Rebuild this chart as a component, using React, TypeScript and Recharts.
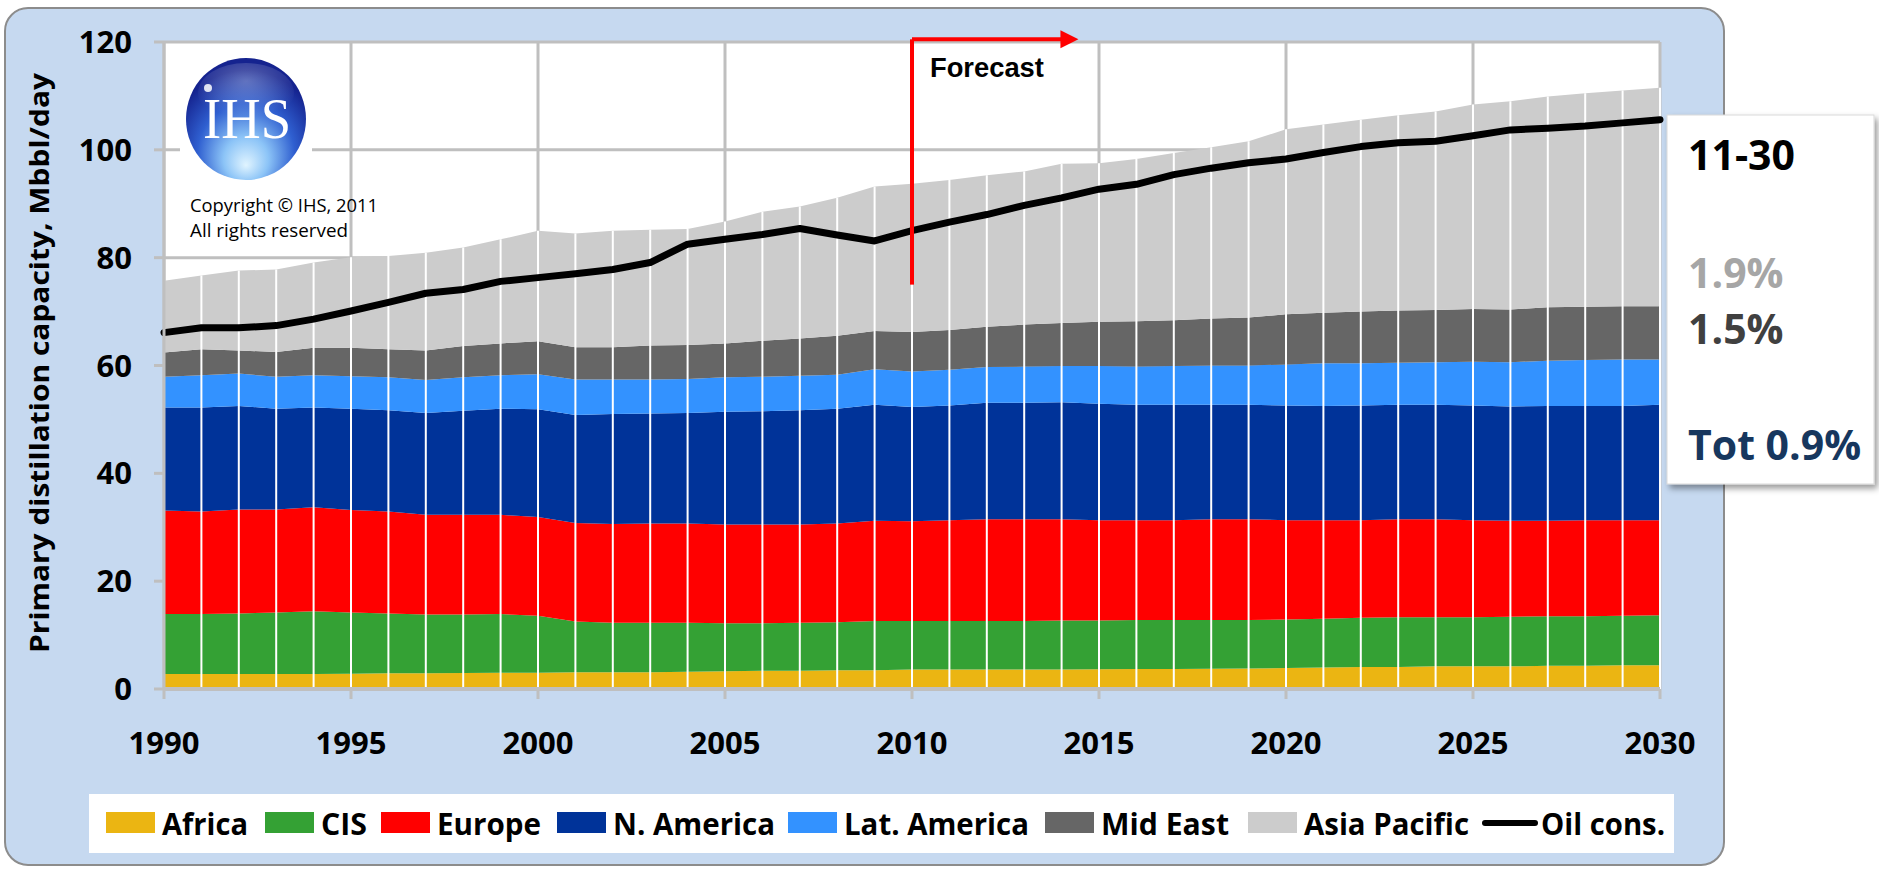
import React from 'react';
import { ComposedChart, Area, Line, XAxis, YAxis, CartesianGrid, ReferenceLine, ReferenceDot } from 'recharts';

const years = [1990,1991,1992,1993,1994,1995,1996,1997,1998,1999,2000,2001,2002,2003,2004,2005,2006,2007,2008,2009,2010,2011,2012,2013,2014,2015,2016,2017,2018,2019,2020,2021,2022,2023,2024,2025,2026,2027,2028,2029,2030];

const africa = [2.8,2.8,2.8,2.8,2.8,2.85,2.9,2.9,2.95,3.0, 3.0,3.1,3.1,3.1,3.2,3.3,3.4,3.4,3.5,3.5, 3.6,3.6,3.6,3.6,3.6,3.65,3.7,3.7,3.75,3.8, 3.9,4.0,4.1,4.1,4.2,4.2,4.2,4.3,4.3,4.4,4.4];
const cis = [11.1,11.1,11.2,11.4,11.6,11.35,11.1,10.9,10.85,10.9, 10.6,9.4,9.2,9.2,9.1,8.9,8.8,8.9,8.9,9.1, 9.0,9.0,9.0,9.0,9.1,9.05,9.1,9.1,9.05,9.0, 9.0,9.05,9.1,9.2,9.1,9.1,9.2,9.2,9.2,9.2,9.3];
const europe = [19.2,19.0,19.3,19.1,19.3,19.0,18.9,18.5,18.5,18.4, 18.3,18.3,18.3,18.4,18.4,18.3,18.3,18.2,18.3,18.6, 18.5,18.7,18.9,18.9,18.8,18.6,18.5,18.5,18.7,18.7, 18.4,18.25,18.1,18.2,18.2,18.0,17.8,17.7,17.8,17.7,17.6];
const nAmerica = [19.1,19.3,19.2,18.7,18.5,18.8,18.8,18.9,19.3,19.7, 20.0,20.0,20.4,20.4,20.5,20.9,21.0,21.2,21.3,21.5, 21.2,21.3,21.6,21.6,21.7,21.6,21.4,21.4,21.2,21.2, 21.3,21.2,21.3,21.2,21.2,21.3,21.2,21.3,21.2,21.2,21.4];
const latAmerica = [5.7,6.0,6.0,5.9,6.0,6.0,6.1,6.1,6.2,6.2, 6.5,6.6,6.4,6.3,6.3,6.4,6.4,6.4,6.3,6.6, 6.6,6.6,6.6,6.7,6.7,7.0,7.1,7.2,7.3,7.3, 7.6,7.9,7.8,7.8,7.9,8.1,8.2,8.4,8.5,8.6,8.4];
const midEast = [4.5,4.8,4.3,4.6,5.1,5.3,5.2,5.5,5.8,5.9, 6.1,6.0,6.0,6.3,6.3,6.3,6.7,6.9,7.2,7.1, 7.3,7.4,7.5,7.8,8.0,8.2,8.4,8.5,8.7,8.9, 9.3,9.4,9.6,9.7,9.7,9.8,9.8,9.9,9.9,9.9,9.9];
const asiaPacific = [13.3,13.7,14.8,15.3,15.8,16.8,17.3,18.1,18.3,19.3, 20.5,21.1,21.6,21.5,21.5,22.6,23.9,24.5,25.6,26.8, 27.5,27.8,28.1,28.4,29.5,29.4,30.1,31.0,31.8,32.7, 34.3,34.9,35.6,36.2,36.8,37.9,38.6,39.1,39.6,40.0,40.5];
const oilCons = [66.1,67.0,67.0,67.4,68.6,70.1,71.7,73.4,74.1,75.6, 76.3,77.0,77.8,79.1,82.5,83.4,84.3,85.4,84.2,83.1, 85.0,86.6,88.0,89.7,91.1,92.7,93.6,95.4,96.6,97.6, 98.3,99.5,100.6,101.3,101.6,102.6,103.7,104.0,104.4,105.0,105.6];

const xTicks = [1990,1995,2000,2005,2010,2015,2020,2025,2030];
const yTicks = [0,20,40,60,80,100,120];

const seriesKeys = ['africa','cis','europe','nAmerica','latAmerica','midEast','asiaPacific'];
const seriesNames = ['Africa','CIS','Europe','N. America','Lat. America','Mid East','Asia Pacific'];
const seriesColors = ['#EBB512','#34A134','#FF0000','#003399','#3392FF','#666666','#CCCCCC'];
const seriesValues = [africa, cis, europe, nAmerica, latAmerica, midEast, asiaPacific];
const oilName = 'Oil cons.';

const forecastStart = 2010;
const forecastArrowBottom = 75;
const forecastArrowTop = 120.5;
const forecastArrowEnd = 2014.45;
const forecastLabel = 'Forecast';

const yTitle = 'Primary distillation capacity, Mbbl/day';
const periodLabel = '11-30';
const growthLabels = ['1.9%', '1.5%', 'Tot 0.9%'];
const growthColors = ['#A6A6A6', '#404040', '#17375E'];

const data = years.map((year, i) => {
  const row: any = { year, oil: oilCons[i] };
  seriesKeys.forEach((k, j) => { row[k] = seriesValues[j][i]; });
  row.total = seriesValues.reduce((s, arr) => s + arr[i], 0);
  return row;
});

const FONT = "'Open Sans', 'Noto Sans', sans-serif";
const GRID = '#BFBFBF';

// legend layout (x positions of swatches / text widths)
const legendX = [106, 265, 381, 557, 788, 1045, 1248];
const legendTextW = [86, 46, 104, 162, 185, 128, 165];
const oilLegendX = 1482;

export default function App() {
  return (
    <div style={{ position: 'absolute', left: 0, top: 0, width: 1879, height: 871, background: '#fff', overflow: 'hidden' }}>
      <div style={{ position: 'absolute', left: 4, top: 7, width: 1717, height: 855, background: '#C6D9F0', border: '2px solid #8C8C8C', borderRadius: 24 }} />
      <div style={{ position: 'absolute', left: 0, top: 0 }}>
        <ComposedChart width={1879} height={871} data={data} margin={{ top: 42, right: 219, bottom: 122, left: 0 }}>
          <CartesianGrid stroke={GRID} strokeWidth={3} fill="#FFFFFF" horizontalValues={yTicks} verticalValues={xTicks} />
          <XAxis dataKey="year" type="number" domain={[1990, 2030]} ticks={xTicks} height={60}
            axisLine={{ stroke: GRID, strokeWidth: 4 }} tickLine={{ stroke: GRID, strokeWidth: 3 }} tickSize={10} tickMargin={33}
            tick={{ fill: '#000', fontSize: 31, fontWeight: 700, fontFamily: FONT }} interval={0} />
          <YAxis type="number" domain={[0, 120]} ticks={yTicks} width={164}
            axisLine={{ stroke: GRID, strokeWidth: 3 }} tickLine={{ stroke: GRID, strokeWidth: 3 }} tickSize={10} tickMargin={22}
            tick={{ fill: '#000', fontSize: 31, fontWeight: 700, fontFamily: FONT }} interval={0} />
          {seriesKeys.map((k, j) => (
            <Area key={k} type="linear" dataKey={k} name={seriesNames[j]} stackId="cap" fill={seriesColors[j]} fillOpacity={1}
              stroke="none" isAnimationActive={false} />
          ))}
          {data.map((d) => (
            <ReferenceLine key={'drop' + d.year} segment={[{ x: d.year, y: 0 }, { x: d.year, y: d.total }]} stroke="#FFFFFF" strokeWidth={2} ifOverflow="visible" />
          ))}
          <Line type="linear" dataKey="oil" name={oilName} stroke="#000" strokeWidth={7} dot={false} strokeLinecap="round" strokeLinejoin="round" isAnimationActive={false} />
          <ReferenceLine segment={[{ x: forecastStart, y: forecastArrowBottom }, { x: forecastStart, y: forecastArrowTop }]} stroke="#FF0000" strokeWidth={4} ifOverflow="visible" />
          <ReferenceLine segment={[{ x: forecastStart, y: forecastArrowTop }, { x: forecastArrowEnd - 0.4, y: forecastArrowTop }]} stroke="#FF0000" strokeWidth={4} ifOverflow="visible" />
          <ReferenceDot x={forecastArrowEnd} y={forecastArrowTop} ifOverflow="visible" isFront
            shape={(p: any) => <polygon points={`${p.cx},${p.cy} ${p.cx - 18},${p.cy - 9} ${p.cx - 18},${p.cy + 9}`} fill="#FF0000" />} />
          <ReferenceDot x={forecastStart + 0.48} y={113.6} ifOverflow="visible" isFront
            shape={(p: any) => <text x={p.cx} y={p.cy} fontFamily="'Liberation Sans', Arial, sans-serif" fontWeight={700} fontSize={27} textLength={114} lengthAdjust="spacingAndGlyphs" fill="#000">{forecastLabel}</text>} />
        </ComposedChart>
      </div>
      <svg width={1879} height={871} style={{ position: 'absolute', left: 0, top: 0, pointerEvents: 'none' }}>
        <defs>
          <radialGradient id="ihsBall" cx="50%" cy="72%" r="62%" fx="50%" fy="88%">
            <stop offset="0%" stopColor="#E0F4FF" />
            <stop offset="30%" stopColor="#8CC4F7" />
            <stop offset="65%" stopColor="#2F5FD0" />
            <stop offset="100%" stopColor="#15238F" />
          </radialGradient>
          <radialGradient id="ihsGloss" cx="50%" cy="30%" r="60%">
            <stop offset="0%" stopColor="#FFFFFF" stopOpacity={0.3} />
            <stop offset="100%" stopColor="#FFFFFF" stopOpacity={0} />
          </radialGradient>
          <filter id="boxShadow" x="-10%" y="-10%" width="130%" height="130%">
            <feDropShadow dx="3" dy="4" stdDeviation="3" floodColor="#000" floodOpacity="0.4" />
          </filter>
        </defs>
        {/* logo */}
        <rect x={180} y={52} width={132} height={140} fill="#FFFFFF" />
        <ellipse cx={246} cy={119} rx={60} ry={61} fill="url(#ihsBall)" />
        <ellipse cx={246} cy={93} rx={48} ry={30} fill="url(#ihsGloss)" />
        <circle cx={208} cy={88} r={4} fill="#FFFFFF" opacity={0.85} />
        <text x={247} y={138} textAnchor="middle" fontFamily="'Liberation Serif', 'DejaVu Serif', serif" fontSize={56} textLength={88} lengthAdjust="spacingAndGlyphs" fill="#FFFFFF">IHS</text>
        <text x={190} y={212} fontFamily={FONT} fontSize={17.5} textLength={188} lengthAdjust="spacingAndGlyphs" fill="#000">Copyright © IHS, 2011</text>
        <text x={190} y={237} fontFamily={FONT} fontSize={17.5} textLength={158} lengthAdjust="spacingAndGlyphs" fill="#000">All rights reserved</text>
        {/* y title */}
        <text x={38} y={363} transform="rotate(-90 38 363)" textAnchor="middle" dominantBaseline="central" fontFamily={FONT} fontWeight={700} fontSize={27} textLength={580} lengthAdjust="spacingAndGlyphs" fill="#000">{yTitle}</text>
        {/* growth box */}
        <rect x={1667} y={115} width={207} height={369} fill="#FFFFFF" stroke="#D9D9D9" strokeWidth={1} filter="url(#boxShadow)" />
        <text x={1688} y={170} fontFamily={FONT} fontWeight={700} fontSize={41} fill="#000">{periodLabel}</text>
        <text x={1688} y={288} fontFamily={FONT} fontWeight={700} fontSize={41} fill={growthColors[0]}>{growthLabels[0]}</text>
        <text x={1688} y={344} fontFamily={FONT} fontWeight={700} fontSize={41} fill={growthColors[1]}>{growthLabels[1]}</text>
        <text x={1688} y={460} fontFamily={FONT} fontWeight={700} fontSize={41} fill={growthColors[2]}>{growthLabels[2]}</text>
        {/* legend */}
        <rect x={89} y={794} width={1585} height={59} fill="#FFFFFF" />
        {seriesNames.map((n, j) => (
          <g key={n}>
            <rect x={legendX[j]} y={812} width={49} height={21} fill={seriesColors[j]} />
            <text x={legendX[j] + 56} y={835} fontFamily={FONT} fontWeight={700} fontSize={30} textLength={legendTextW[j]} lengthAdjust="spacingAndGlyphs" fill="#000">{n}</text>
          </g>
        ))}
        <line x1={oilLegendX + 3} y1={823} x2={oilLegendX + 53} y2={823} stroke="#000" strokeWidth={6} strokeLinecap="round" />
        <text x={oilLegendX + 59} y={835} fontFamily={FONT} fontWeight={700} fontSize={30} textLength={124} lengthAdjust="spacingAndGlyphs" fill="#000">{oilName}</text>
      </svg>
    </div>
  );
}
